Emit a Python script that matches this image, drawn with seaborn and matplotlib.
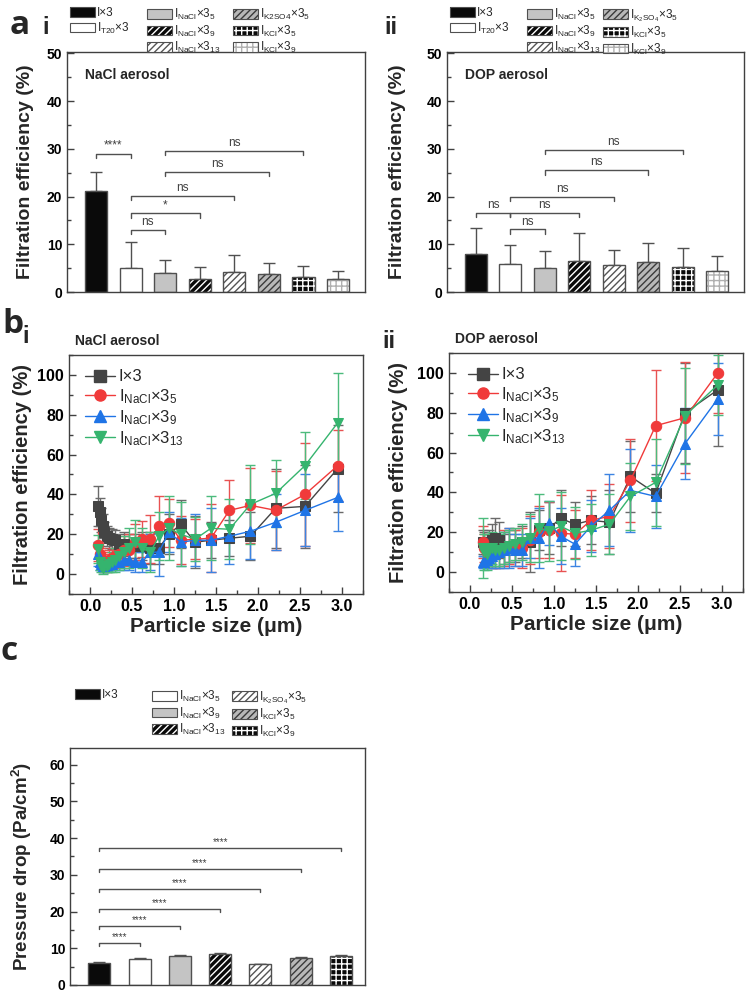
import numpy as np
import pandas as pd
import matplotlib
matplotlib.use("Agg")
import matplotlib.pyplot as plt
import seaborn as sns
from matplotlib.patches import Patch, Rectangle
from matplotlib.lines import Line2D
from matplotlib.ticker import MultipleLocator

# ---------------- data ----------------
a_categories = ['I×3', 'I_T20×3', 'I_NaCl×3_5', 'I_NaCl×3_9', 'I_NaCl×3_13',
                'I_K2SO4×3_5', 'I_KCl×3_5', 'I_KCl×3_9']
ai_values = [21.2, 5.0, 4.0, 2.8, 4.2, 3.8, 3.2, 2.7]
ai_sd = [4.0, 5.5, 2.8, 2.4, 3.6, 2.3, 2.2, 1.7]
aii_values = [8.0, 5.9, 5.1, 6.5, 5.6, 6.2, 5.2, 4.3]
aii_sd = [5.4, 3.9, 3.4, 5.8, 3.2, 4.0, 4.1, 3.2]
ai_sig = [(0, 1, 29.0, '****'), (1, 2, 13.0, 'ns'), (1, 3, 16.5, '*'),
          (1, 4, 20.2, 'ns'), (2, 5, 25.2, 'ns'), (2, 6, 29.6, 'ns')]
aii_sig = [(0, 1, 16.6, 'ns'), (1, 2, 13.1, 'ns'), (1, 3, 16.6, 'ns'),
           (1, 4, 20.0, 'ns'), (2, 5, 25.5, 'ns'), (2, 6, 29.8, 'ns')]

b_series = ['I×3', 'I_NaCl×3_5', 'I_NaCl×3_9', 'I_NaCl×3_13']
b_labels = [r'I×3', r'I$_{\mathrm{NaCl}}$×3$_{5}$', r'I$_{\mathrm{NaCl}}$×3$_{9}$',
            r'I$_{\mathrm{NaCl}}$×3$_{13}$']

bi_sizes = [0.10, 0.115, 0.13, 0.15, 0.17, 0.20, 0.23, 0.26, 0.30, 0.35, 0.40, 0.47, 0.54,
            0.62, 0.72, 0.82, 0.94, 1.08, 1.25, 1.44, 1.66, 1.91, 2.21, 2.56, 2.95]
bi_I3 = [34, 31, 27, 24, 21, 19, 18, 17.5, 17, 15, 15, 14, 14, 14, 13, 13, 20, 25, 16, 17, 18, 19, 33, 34, 53]
bi_I3_sd = [10, 7, 6, 6, 5, 5, 5, 5, 5, 5, 6, 6, 6, 7, 8, 8, 10, 12, 13, 9, 9, 12, 20, 21, 22]
bi_N5 = [14.5, 10, 8, 6, 6, 5, 7, 8, 9, 10, 12, 12, 16, 17.5, 17.5, 24, 25.5, 17, 17.5, 18, 32, 34.5, 32, 40, 54.5]
bi_N5_sd = [8, 6, 5, 5, 4, 4, 5, 5, 6, 6, 7, 8, 9, 9, 12, 15, 12, 12, 10, 17, 15, 19, 20, 26, 18]
bi_N9 = [10, 6, 5, 4, 4, 4.5, 5, 5, 6, 6, 7, 7, 6, 6, 11, 11, 21, 16, 17, 17, 19, 21.5, 26, 32, 38.5]
bi_N9_sd = [6, 4, 3, 3, 3, 3, 3, 3, 4, 4, 5, 5, 5, 5, 9, 12, 10, 12, 13, 16, 14, 14, 14, 18, 17]
bi_N13 = [12.5, 6, 4, 3, 4, 4, 5, 6, 7, 9, 11, 13, 16, 13, 11, 19, 23, 20, 17.5, 23, 22.5, 35, 40.5, 54.5, 76]
bi_N13_sd = [7, 4, 3, 3, 3, 3, 4, 5, 6, 7, 8, 10, 11, 10, 10, 12, 16, 16, 11, 16, 15, 20, 17, 17, 25]

bii_sizes = [0.15, 0.17, 0.20, 0.23, 0.26, 0.30, 0.35, 0.40, 0.47, 0.54, 0.62, 0.72, 0.82,
             0.94, 1.08, 1.25, 1.44, 1.66, 1.91, 2.21, 2.56, 2.95]
bii_I3 = [15, 14, 13, 14, 16, 17, 16, 12, 12, 13, 15, 15, 21, 22, 27, 24, 26, 25, 48, 39.5, 80, 91.5]
bii_I3_sd = [6, 6, 6, 7, 8, 10, 9, 8, 7, 8, 8, 15, 10, 13, 14, 11, 12, 16, 18, 9.5, 25, 28]
bii_N5 = [15, 12, 10, 9, 8, 9, 10, 12, 13, 12, 12, 16, 20, 21, 19.5, 19, 26, 28, 46, 73.5, 77.5, 100]
bii_N5_sd = [8, 7, 6, 6, 6, 7, 8, 9, 9, 9, 10, 12, 13, 14, 19, 12, 15, 16, 21, 28, 28, 20]
bii_N9 = [5, 5, 6, 7, 8, 9, 10, 11, 12, 11, 11, 17, 17, 24.5, 18, 14, 23, 31, 41, 38, 64.5, 87]
bii_N9_sd = [3, 3, 4, 5, 6, 7, 8, 9, 10, 8, 8, 10, 15, 11, 14, 11, 13, 18, 21, 16, 18, 18]
bii_N13 = [12, 10, 9, 11, 12, 11, 11, 12, 13, 14, 15, 17, 22, 20.5, 23, 19.5, 21, 24, 38, 45, 78.5, 94]
bii_N13_sd = [15, 9, 8, 8, 8, 8, 8, 8, 8, 8, 9, 12, 17, 15, 17, 13, 13, 15, 17, 22, 24, 15]

c_categories = ['I×3', 'I_NaCl×3_5', 'I_NaCl×3_9', 'I_NaCl×3_13', 'I_K2SO4×3_5',
                'I_KCl×3_5', 'I_KCl×3_9']
c_values = [6.0, 7.1, 7.9, 8.5, 5.6, 7.3, 7.9]
c_sd = [0.2, 0.15, 0.4, 0.25, 0.15, 0.2, 0.2]
c_sig = [(0, 1, 11.5, '****'), (0, 2, 16.1, '****'), (0, 3, 20.6, '****'),
         (0, 4, 26.1, '****'), (0, 5, 31.5, '****'), (0, 6, 37.2, '****')]

# legend label texts
L_I3 = r'I×3'
L_T20 = r'I$_{\mathrm{T20}}$×3'
L_N5 = r'I$_{\mathrm{NaCl}}$×3$_{5}$'
L_N9 = r'I$_{\mathrm{NaCl}}$×3$_{9}$'
L_N13 = r'I$_{\mathrm{NaCl}}$×3$_{13}$'
L_K2a = r'I$_{\mathrm{K2SO4}}$×3$_{5}$'
L_K2b = r'I$_{\mathrm{K_2SO_4}}$×3$_{5}$'
L_K5 = r'I$_{\mathrm{KCl}}$×3$_{5}$'
L_K9 = r'I$_{\mathrm{KCl}}$×3$_{9}$'

# ---------------- style ----------------
sns.set_style('ticks')
plt.rcParams.update({
    'font.family': ['Liberation Sans', 'DejaVu Sans'],
    'mathtext.fontset': 'custom',
    'mathtext.rm': 'Liberation Sans',
    'mathtext.it': 'Liberation Sans:italic',
    'mathtext.bf': 'Liberation Sans:bold',
    'hatch.linewidth': 1.0,
    'axes.edgecolor': '#404040',
    'axes.linewidth': 1.0,
    'xtick.direction': 'in', 'ytick.direction': 'in',
    'xtick.color': '#404040', 'ytick.color': '#404040',
    'xtick.labelcolor': 'black', 'ytick.labelcolor': 'black',
})

W, H = 748, 992
fig = plt.figure(figsize=(W / 100, H / 100), dpi=100)

def ax_px(l, t, r, b):
    return fig.add_axes([l / W, 1 - b / H, (r - l) / W, (b - t) / H])

STYLES = [
    dict(fc='#0a0a0a', hatch='', hc='#0a0a0a'),
    dict(fc='white', hatch='', hc='white'),
    dict(fc='#c4c4c4', hatch='', hc='#c4c4c4'),
    dict(fc='#0a0a0a', hatch='/////', hc='white'),
    dict(fc='white', hatch='/////', hc='#555555'),
    dict(fc='#b8b8b8', hatch='/////', hc='#3a3a3a'),
    dict(fc='#0a0a0a', hatch='+++', hc='white'),
    dict(fc='white', hatch='+++', hc='#b0b0b0'),
]
EDGE = '#505050'

def draw_bars(ax, cats, vals, sd, width):
    df = pd.DataFrame({'cat': cats, 'val': vals})
    pal = [STYLES[k]['fc'] for k in range(len(cats))]
    sns.barplot(data=df, x='cat', y='val', hue='cat', hue_order=cats, order=cats,
                palette=pal, width=width, saturation=1, legend=False, ax=ax,
                errorbar=None, zorder=2)
    patches = sorted(list(ax.patches), key=lambda p: p.get_x())
    for k, p in enumerate(patches):
        s = STYLES[k]
        p.set_facecolor(s['fc'])
        p.set_edgecolor(s['hc'])
        p.set_hatch(s['hatch'])
        p.set_linewidth(0)
        ax.add_patch(Rectangle((p.get_x(), p.get_y()), p.get_width(), p.get_height(),
                               fill=False, ec=EDGE, lw=1.0, zorder=3))
    x = np.arange(len(cats))
    ax.errorbar(x, vals, yerr=[np.zeros(len(cats)), sd], fmt='none', ecolor=EDGE,
                elinewidth=1, capsize=4, capthick=1, zorder=1)
    ax.set_xlabel('')
    ax.set_xticks([])

def brackets(ax, sig, drop, fs, gap):
    for i, j, y, txt in sig:
        ax.plot([i, i, j, j], [y - drop, y, y, y - drop], color=EDGE, lw=1, zorder=4)
        ax.text((i + j) / 2, y + gap, txt, ha='center', va='bottom', fontsize=fs,
                color='#404040', zorder=4)

def bar_handle(k):
    s = STYLES[k]
    return (Patch(facecolor=s['fc'], edgecolor=s['hc'], hatch=s['hatch'], lw=0),
            Patch(facecolor='none', edgecolor=EDGE, lw=0.8))

def col_legend(idx, labels, x_px, y_px):
    fig.legend([bar_handle(k) for k in idx], labels, loc='upper left',
               bbox_to_anchor=(x_px / W, 1 - y_px / H), frameon=False, borderpad=0,
               borderaxespad=0, handlelength=2.1, handleheight=0.85, handletextpad=0.2,
               labelspacing=0.12, fontsize=8.5)

def style_axis(ax, fs):
    for sp in ax.spines.values():
        sp.set_visible(True)
        sp.set_color('#404040')
        sp.set_linewidth(1.0)
    ax.tick_params(axis='both', which='major', length=5, width=1, labelsize=fs)
    ax.tick_params(axis='both', which='minor', length=3, width=1)
    for t in ax.get_yticklabels() + ax.get_xticklabels():
        t.set_fontweight('bold')

# ---------------- panel a ----------------
for (l, t, r, b), vals, sd, sig, title, lab_x, leg_x, k2 in [
        ((67, 52, 365, 292), ai_values, ai_sd, ai_sig, 'NaCl aerosol', -0.111, (70, 147, 233), L_K2a),
        ((447, 52, 744, 292), aii_values, aii_sd, aii_sig, 'DOP aerosol', -0.138, (450, 527, 603), L_K2b)]:
    ax = ax_px(l, t, r, b)
    draw_bars(ax, a_categories, vals, sd, 0.64)
    brackets(ax, sig, 0.9, 8.5, 0.4)
    ax.set_xlim(-0.84, 7.78)
    ax.set_ylim(0, 50.3)
    ax.yaxis.set_major_locator(MultipleLocator(10))
    ax.yaxis.set_minor_locator(MultipleLocator(5))
    ax.set_ylabel('Filtration efficiency (%)', fontsize=14, fontweight='bold')
    ax.yaxis.set_label_coords(lab_x, 0.5)
    ax.text(0.06, 0.905, title, transform=ax.transAxes, fontsize=10, fontweight='bold',
            va='center', ha='left')
    style_axis(ax, 10)
    col_legend([0, 1], [L_I3, L_T20], leg_x[0], 7)
    col_legend([2, 3, 4], [L_N5, L_N9, L_N13], leg_x[1], 7)
    col_legend([5, 6, 7], [k2, L_K5, L_K9], leg_x[2], 7)

# ---------------- panel b ----------------
B_COLORS = ['#444444', '#f03a3a', '#1f74e6', '#35b46e']
B_ERR = ['#6a6a6a', '#e85252', '#3c84e2', '#4cbb7c']
B_MARKERS = ['s', 'o', '^', 'v']

for (l, t, r, b), sizes, vals_list, sd_list, title, lab_x, leg_anchor in [
        ((69, 355, 363, 594), bi_sizes, [bi_I3, bi_N5, bi_N9, bi_N13],
         [bi_I3_sd, bi_N5_sd, bi_N9_sd, bi_N13_sd], 'NaCl aerosol', -0.126, (0.055, 0.94)),
        ((449, 353, 743, 592), bii_sizes, [bii_I3, bii_N5, bii_N9, bii_N13],
         [bii_I3_sd, bii_N5_sd, bii_N9_sd, bii_N13_sd], 'DOP aerosol', -0.139, (0.065, 0.94))]:
    ax = ax_px(l, t, r, b)
    rows = []
    for name, vals in zip(b_series, vals_list):
        for s, v in zip(sizes, vals):
            rows.append((s, v, name))
    df = pd.DataFrame(rows, columns=['size', 'eff', 'series'])
    sns.lineplot(data=df, x='size', y='eff', hue='series', style='series',
                 hue_order=b_series, style_order=b_series,
                 palette=dict(zip(b_series, B_COLORS)),
                 markers=dict(zip(b_series, B_MARKERS)), dashes=False,
                 markersize=7.5, linewidth=1, ax=ax, legend=False, errorbar=None,
                 sort=False, zorder=3)
    for ln in ax.get_lines():
        ln.set_markeredgecolor(ln.get_color())
    for vals, sd, c in zip(vals_list, sd_list, B_ERR):
        ax.errorbar(sizes, vals, yerr=sd, fmt='none', ecolor=c, elinewidth=1,
                    capsize=3.5, capthick=1, zorder=2)
    ax.set_xlim(-0.25, 3.25)
    ax.set_ylim(-10, 110)
    ax.xaxis.set_major_locator(MultipleLocator(0.5))
    ax.xaxis.set_minor_locator(MultipleLocator(0.25))
    ax.yaxis.set_major_locator(MultipleLocator(20))
    ax.yaxis.set_minor_locator(MultipleLocator(10))
    ax.xaxis.set_major_formatter(matplotlib.ticker.FormatStrFormatter('%.1f'))
    ax.set_xlabel('Particle size (μm)', fontsize=15, fontweight='bold', labelpad=2)
    ax.set_ylabel('Filtration efficiency (%)', fontsize=14.5, fontweight='bold')
    ax.yaxis.set_label_coords(lab_x, 0.5)
    ax.text(0.02, 1.06, title, transform=ax.transAxes, fontsize=10, fontweight='bold',
            va='center', ha='left')
    handles = [Line2D([0], [0], color=c, marker=m, markersize=8, lw=1, mec=c)
               for c, m in zip(B_COLORS, B_MARKERS)]
    ax.legend(handles, b_labels, loc='upper left', bbox_to_anchor=leg_anchor,
              frameon=False, fontsize=12, handlelength=1.8, handletextpad=0.2,
              labelspacing=0.15, borderpad=0, borderaxespad=0)
    style_axis(ax, 11.5)

# ---------------- panel c ----------------
ax = ax_px(70, 748, 365, 985)
draw_bars(ax, c_categories, c_values, c_sd, 0.55)
brackets(ax, c_sig, 0.8, 7, 0.2)
ax.set_xlim(-0.73, 6.6)
ax.set_ylim(0, 64.5)
ax.yaxis.set_major_locator(MultipleLocator(10))
ax.yaxis.set_minor_locator(MultipleLocator(5))
ax.set_ylabel(r'Pressure drop (Pa/cm$\mathbf{^2}$)', fontsize=13.5, fontweight='bold')
ax.yaxis.set_label_coords(-0.122, 0.5)
style_axis(ax, 10)
col_legend([0], [L_I3], 75, 689)
col_legend([1, 2, 3], [L_N5, L_N9, L_N13], 152, 689)
col_legend([4, 5, 6], [L_K2b, L_K5, L_K9], 232, 689)

# ---------------- panel labels ----------------
def plabel(x, y, s, fs, fam='Open Sans'):
    fig.text(x / W, 1 - y / H, s, fontsize=fs, fontweight='bold', family=fam,
             va='baseline', ha='left')

plabel(10, 34, 'a', 24)
plabel(42, 34, 'i', 17, 'Liberation Sans')
plabel(384, 34, 'ii', 17, 'Liberation Sans')
plabel(2, 333, 'b', 24)
plabel(22, 343, 'i', 17, 'Liberation Sans')
plabel(382, 348, 'ii', 17, 'Liberation Sans')
plabel(0, 660, 'c', 24)

fig.savefig('out.png', dpi=100)
